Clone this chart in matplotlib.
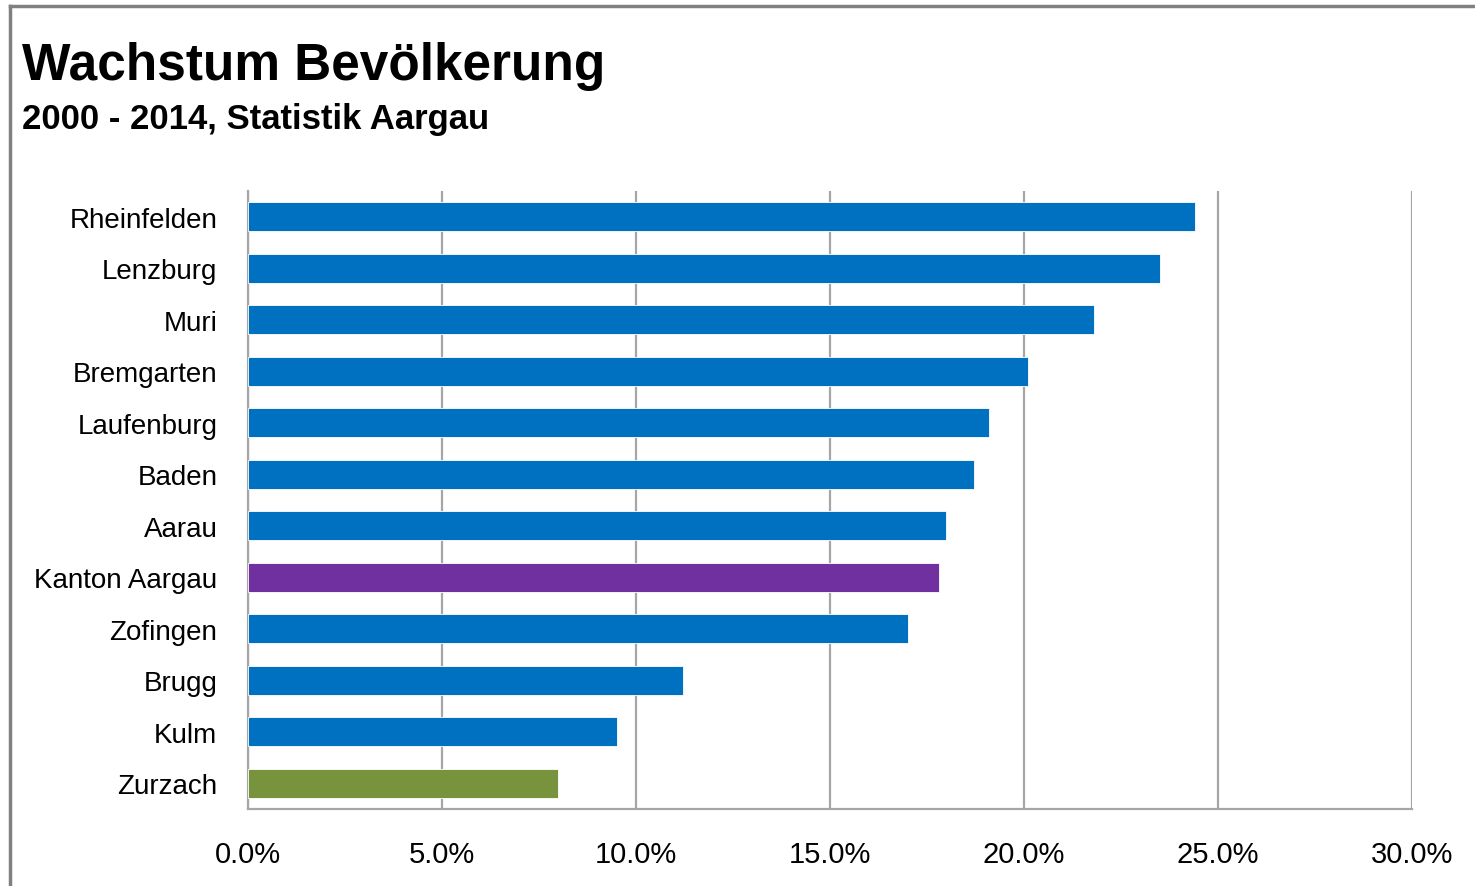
import matplotlib
matplotlib.use("Agg")
import matplotlib.pyplot as plt
from matplotlib.lines import Line2D
from matplotlib.ticker import FuncFormatter

plt.rcParams['font.family'] = ['Liberation Sans', 'DejaVu Sans']

# Bevölkerungswachstum 2000-2014 nach Bezirk (in %)
bezirke = ['Rheinfelden', 'Lenzburg', 'Muri', 'Bremgarten', 'Laufenburg', 'Baden',
           'Aarau', 'Kanton Aargau', 'Zofingen', 'Brugg', 'Kulm', 'Zurzach']
wachstum = [24.4, 23.5, 21.8, 20.1, 19.1, 18.7, 18.0, 17.8, 17.0, 11.2, 9.5, 8.0]
farben = ['#0070C0'] * 7 + ['#7030A0'] + ['#0070C0'] * 3 + ['#77933C']
x_ticks = [0, 5, 10, 15, 20, 25, 30]

fig = plt.figure(figsize=(14.75, 8.87), dpi=100)
ax = fig.add_axes([248 / 1475, 1 - 810 / 887, 1164 / 1475, 618 / 887])

y = list(range(len(bezirke)))
ax.barh(y, wachstum, height=0.56, color=farben, edgecolor='white', linewidth=0.6, zorder=3)
ax.set_ylim(len(bezirke) - 0.5, -0.5)
ax.set_xlim(0, 30)
ax.set_yticks(y)
ax.set_yticklabels(bezirke, fontsize=20)
ax.set_xticks(x_ticks)
ax.xaxis.set_major_formatter(FuncFormatter(lambda v, p: f"{v:.1f}%"))
ax.tick_params(axis='x', labelsize=21, length=0, pad=22)
ax.tick_params(axis='y', length=0, pad=22)
ax.grid(axis='x', color='#A6A6A6', linewidth=1.6, zorder=0)

for side in ['top', 'right']:
    ax.spines[side].set_visible(False)
for side in ['left', 'bottom']:
    ax.spines[side].set_color('#A6A6A6')
    ax.spines[side].set_linewidth(1.6)

# Titel
fig.text(22 / 1475, 1 - 80 / 887, 'Wachstum Bevölkerung', fontsize=37, fontweight='bold',
         ha='left', va='baseline')
fig.text(22 / 1475, 1 - 129 / 887, '2000 - 2014, Statistik Aargau', fontsize=25,
         fontweight='bold', ha='left', va='baseline')

# Rahmen oben und links
fig.add_artist(Line2D([10 / 1475, 1], [1 - 7 / 887] * 2, color='#808080', linewidth=2.5,
                      transform=fig.transFigure))
fig.add_artist(Line2D([10 / 1475] * 2, [0, 1 - 7 / 887], color='#808080', linewidth=2.5,
                      transform=fig.transFigure))

fig.savefig('out.png', dpi=100, facecolor='white')
